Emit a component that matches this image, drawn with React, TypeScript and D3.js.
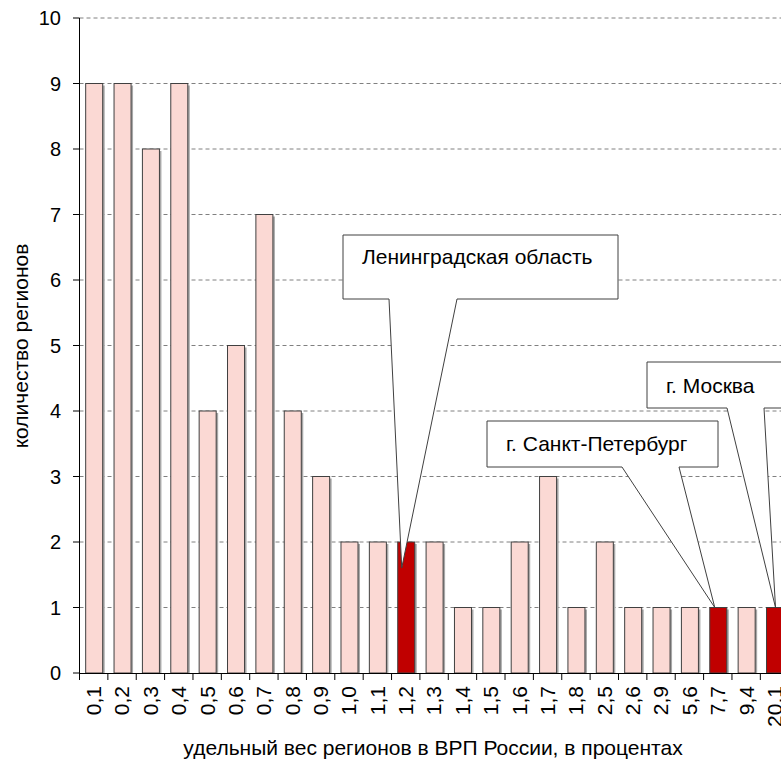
import * as d3 from 'd3'

// категории (удельный вес в ВРП, %) и число регионов
const categories = ['0,1', '0,2', '0,3', '0,4', '0,5', '0,6', '0,7', '0,8', '0,9', '1,0', '1,1', '1,2', '1,3',
  '1,4', '1,5', '1,6', '1,7', '1,8', '2,5', '2,6', '2,9', '5,6', '7,7', '9,4', '20,1']
const counts = [9, 9, 8, 9, 4, 5, 7, 4, 3, 2, 2, 2, 2, 1, 1, 2, 3, 1, 2, 1, 1, 1, 1, 1, 1]
const highlighted = ['1,2', '7,7', '20,1']
const yTicks = [0, 1, 2, 3, 4, 5, 6, 7, 8, 9, 10]

const callouts = [
  { label: 'Ленинградская область', cat: '1,2' },
  { label: 'г. Санкт-Петербург', cat: '7,7' },
  { label: 'г. Москва', cat: '20,1' },
]

const W = 781
const H = 766
const FONT = "'Liberation Sans', Arial, sans-serif"

export default function App() {
  const x = d3.scaleBand<string>()
    .domain(categories)
    .range([79.5, 788.7])
    .paddingInner(0.4)
    .paddingOuter(0.2)

  const y = d3.scaleLinear().domain([0, 10]).range([673, 18])
  const step = x.step()
  const bw = x.bandwidth()

  // callout boxes (annotation layout)
  const boxes = [
    { l: 343, t: 235, r: 618, b: 299, legL: 389, legR: 457, dx: -4, dy: 26, ty: 264 },
    { l: 487, t: 421, r: 718, b: 467, legL: 622, legR: 679, dx: -3, dy: 0, ty: 451 },
    { l: 647, t: 362, r: 805, b: 408, legL: 727, legR: 764, dx: 1, dy: 0, ty: 393 },
  ]

  return (
    <svg width={W} height={H} style={{ position: 'fixed', left: 0, top: 0, background: '#fff' }}
      fontFamily={FONT}>
      {/* gridlines */}
      {yTicks.filter(t => t > 0).map(t => (
        <line key={t} x1={79.5} x2={W} y1={y(t)} y2={y(t)} stroke="#808080" strokeDasharray="4,3" />
      ))}

      {/* bars */}
      {categories.map((c, i) => {
        const bx = x(c)!
        const by = y(counts[i])
        const h = y(0) - by
        const red = highlighted.includes(c)
        return (
          <g key={c}>
            <rect x={bx + 2.5} y={by + 2} width={bw} height={h - 2} fill="#a8a8a8" />
            <rect x={bx + 0.5} y={by} width={bw} height={h} fill={red ? '#c00000' : '#fbd9d4'}
              stroke="#404040" strokeWidth={1} />
          </g>
        )
      })}

      {/* axes */}
      <line x1={79.5} x2={79.5} y1={y(10)} y2={y(0)} stroke="#000" />
      <line x1={79.5} x2={W} y1={y(0) + 0.5} y2={y(0) + 0.5} stroke="#000" />
      {yTicks.map(t => (
        <g key={t}>
          <line x1={73} x2={79.5} y1={y(t)} y2={y(t)} stroke="#000" />
          <text x={61} y={y(t)} dy="0.35em" textAnchor="end" fontSize={20}>{t}</text>
        </g>
      ))}
      {categories.map((c, i) => (
        <line key={'t' + c} x1={79.5 + i * step} x2={79.5 + i * step} y1={y(0)} y2={y(0) + 7} stroke="#000" />
      ))}
      {categories.map(c => {
        const cx = x(c)! + bw / 2
        return (
          <text key={'l' + c} transform={`translate(${cx},686) rotate(-90)`} dy="0.35em" textAnchor="end"
            fontSize={21}>{c}</text>
        )
      })}

      {/* callouts */}
      {callouts.map((co, i) => {
        const b = boxes[i]
        const idx = categories.indexOf(co.cat)
        const tx = x(co.cat)! + bw / 2 + b.dx
        const ty = y(counts[idx]) + b.dy
        const d = `M${b.l},${b.t}H${b.r}V${b.b}H${b.legR}L${tx},${ty}L${b.legL},${b.b}H${b.l}Z`
        return (
          <g key={co.label}>
            <path d={d} fill="#fff" stroke="#404040" strokeWidth={1} />
            <text x={b.l + 19} y={b.ty} fontSize={21}>{co.label}</text>
          </g>
        )
      })}

      {/* axis titles */}
      <text transform="translate(28,346) rotate(-90)" textAnchor="middle" fontSize={21}>количество регионов</text>
      <text x={433} y={755} textAnchor="middle" fontSize={21}>удельный вес регионов в ВРП России, в процентах</text>
    </svg>
  )
}
